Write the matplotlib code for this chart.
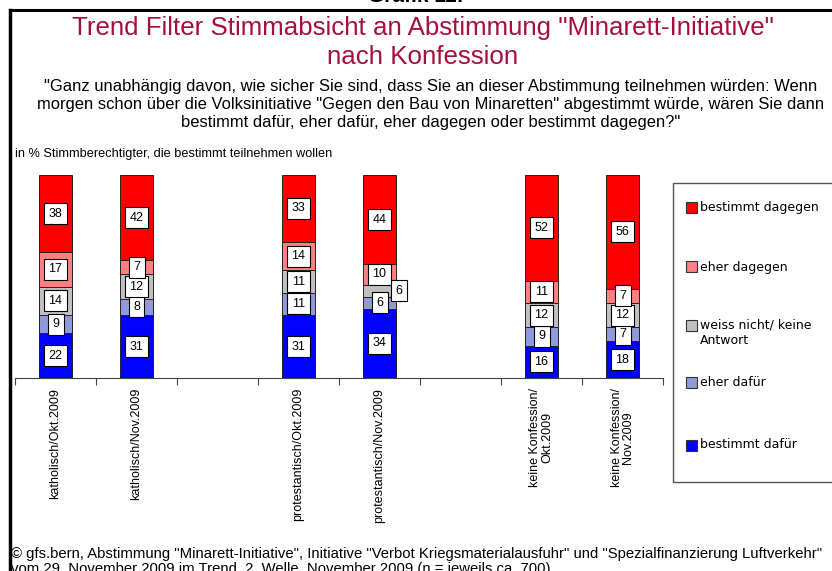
import matplotlib
matplotlib.use("Agg")
import matplotlib.pyplot as plt
from matplotlib.patches import Rectangle
from matplotlib.lines import Line2D
import numpy as np

categories = ["katholisch/Okt.2009", "katholisch/Nov.2009",
              "protestantisch/Okt.2009", "protestantisch/Nov.2009",
              "keine Konfession/\nOkt.2009", "keine Konfession/\nNov.2009"]
series_names = ["bestimmt dafür", "eher dafür", "weiss nicht/ keine\nAntwort",
                "eher dagegen", "bestimmt dagegen"]
bestimmt_dafuer = [22, 31, 31, 34, 16, 18]
eher_dafuer = [9, 8, 11, 6, 9, 7]
weiss_nicht = [14, 12, 11, 6, 12, 12]
eher_dagegen = [17, 7, 14, 10, 11, 7]
bestimmt_dagegen = [38, 42, 33, 44, 52, 56]

series = [bestimmt_dafuer, eher_dafuer, weiss_nicht, eher_dagegen, bestimmt_dagegen]
colors = ["#0000FF", "#9099DA", "#C0C0C0", "#FF8080", "#FF0000"]
positions = [0, 1, 3, 4, 6, 7]

ARIAL = ["Liberation Sans", "DejaVu Sans"]
TITLE_COLOR = "#A50F3C"

W, H = 832, 571
fig = plt.figure(figsize=(W / 100, H / 100), dpi=100)

def fx(px):
    return px / W

def fy(py):
    return 1 - py / H

ax = fig.add_axes([fx(15), fy(378), fx(663) - fx(15), fy(175) - fy(378)])

bottom = np.zeros(len(positions))
for vals, col in zip(series, colors):
    ax.bar(positions, vals, width=0.41, bottom=bottom, color=col,
           edgecolor="#222222", linewidth=0.7, zorder=2)
    bottom += np.array(vals)

# value labels
x_shift = {(3, 2): 0.24}
bottom = np.zeros(len(positions))
for si, vals in enumerate(series):
    for ci, (p, v) in enumerate(zip(positions, vals)):
        yc = bottom[ci] + v / 2
        xc = p + x_shift.get((ci, si), 0)
        ax.text(xc, yc, str(v), ha="center", va="center", fontsize=9,
                family=ARIAL, zorder=5,
                bbox=dict(boxstyle="square,pad=0.36", fc="white", ec="black", lw=0.8))
    bottom += np.array(vals)

ax.set_xlim(-0.5, 7.5)
ax.set_ylim(0, 100)
for s in ["left", "top", "right"]:
    ax.spines[s].set_visible(False)
ax.spines["bottom"].set_color("#444444")
ax.spines["bottom"].set_linewidth(0.8)
ax.set_yticks([])
ax.set_xticks(positions)
ax.set_xticklabels(categories, rotation=90, fontsize=9, family=ARIAL,
                   ha="center", va="top", multialignment="center", linespacing=1.0)
ax.tick_params(axis="x", which="major", length=0, pad=7)
ax.set_xticks(np.arange(-0.5, 8, 1), minor=True)
ax.tick_params(axis="x", which="minor", length=5, direction="out", color="#444444", width=0.8)

# frame
fig.add_artist(Line2D([fx(10), 1], [fy(10), fy(10)], color="black", lw=2.2))
fig.add_artist(Line2D([fx(10), fx(10)], [fy(10), 0], color="black", lw=2.5))

# headline texts
fig.text(0.5, fy(2), "Grafik 11:", ha="center", va="baseline", fontsize=15,
         fontweight="bold", family=ARIAL)
fig.text(fx(423), fy(35), 'Trend Filter Stimmabsicht an Abstimmung "Minarett-Initiative"',
         ha="center", va="baseline", fontsize=18.6, color=TITLE_COLOR, family=ARIAL)
fig.text(fx(423), fy(64), "nach Konfession",
         ha="center", va="baseline", fontsize=18.6, color=TITLE_COLOR, family=ARIAL)
q_lines = ['"Ganz unabhängig davon, wie sicher Sie sind, dass Sie an dieser Abstimmung teilnehmen würden: Wenn',
           'morgen schon über die Volksinitiative "Gegen den Bau von Minaretten" abgestimmt würde, wären Sie dann',
           'bestimmt dafür, eher dafür, eher dagegen oder bestimmt dagegen?"']
for i, ln in enumerate(q_lines):
    fig.text(fx(431), fy(91 + 18 * i), ln, ha="center", va="baseline",
             fontsize=11.9, family=ARIAL)
fig.text(fx(15), fy(157), "in % Stimmberechtigter, die bestimmt teilnehmen wollen",
         ha="left", va="baseline", fontsize=9.2, family=ARIAL)

fig.text(fx(11), fy(558),
         '© gfs.bern, Abstimmung "Minarett-Initiative", Initiative "Verbot Kriegsmaterialausfuhr" und "Spezialfinanzierung Luftverkehr"',
         ha="left", va="baseline", fontsize=10.7, family=ARIAL)
fig.text(fx(11), fy(573),
         'vom 29. November 2009 im Trend, 2. Welle, November 2009 (n = jeweils ca. 700)',
         ha="left", va="baseline", fontsize=10.7, family=ARIAL)

# legend (manual)
fig.add_artist(Rectangle((fx(673), fy(482)), 1 - fx(673) + 0.05, fy(183) - fy(482),
                         fill=False, ec="#555555", lw=1.0))
leg_y = [445, 382, 325, 267, 207]
for name, col, yy in zip(series_names, colors, leg_y):
    fig.add_artist(Rectangle((fx(686), fy(yy + 5.5)), fx(11), fy(0) - fy(11),
                             fc=col, ec="#333333", lw=0.8))
    multi = "\n" in name
    fig.text(fx(700), fy(yy - 7) if multi else fy(yy), name, ha="left",
             va="top" if multi else "center",
             fontsize=9, family="DejaVu Sans", linespacing=1.3)

fig.savefig("out.png", dpi=100)
